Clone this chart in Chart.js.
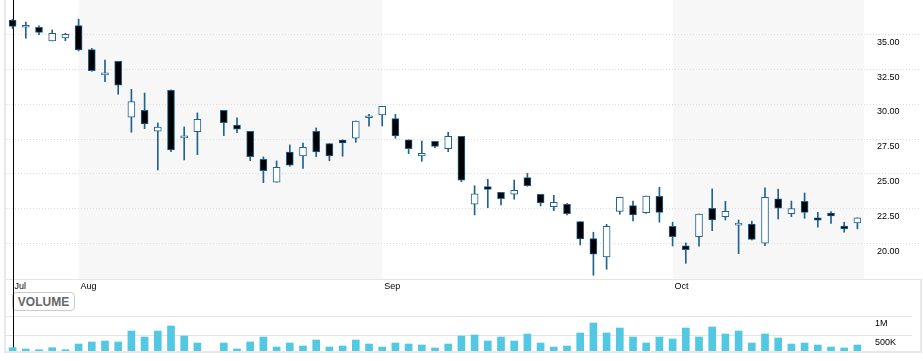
<!DOCTYPE html>
<html>
<head>
<meta charset="utf-8">
<script src="https://cdn.jsdelivr.net/npm/chart.js@4.4.1/dist/chart.umd.min.js"></script>
<style>
  html, body { margin: 0; padding: 0; background: #fff; }
  #wrap { position: relative; width: 923px; height: 361px; overflow: hidden; }
  #wrap canvas { position: absolute; left: 0; }
  #volBtn {
    position: absolute; left: 12px; top: 292px; width: 63px; height: 19px;
    border: 1px solid #cacaca; border-radius: 4px; box-sizing: border-box;
    font: bold 12px "Liberation Sans", Arial, sans-serif; color: #666;
    text-align: center; line-height: 18px; background: #fff;
  }
  .frame { position: absolute; background: #e8e8e8; }
</style>
</head>
<body>
<div id="wrap">
  <div class="frame" style="left:4px;top:0;width:2px;height:353px"></div>
  <div class="frame" style="left:920px;top:279px;width:2px;height:74px"></div>
  <div class="frame" style="left:4px;top:351px;width:918px;height:2px"></div>
  <div id="volBtn">VOLUME</div>
  <canvas id="price" width="923" height="295" style="top:0"></canvas>
  <canvas id="volume" width="923" height="66" style="top:295px"></canvas>
</div>
<script>
// trading days shown on the chart
const dates = [
  '2011-07-25', '2011-07-26', '2011-07-27', '2011-07-28', '2011-07-29',
  '2011-08-01', '2011-08-02', '2011-08-03', '2011-08-04', '2011-08-05',
  '2011-08-08', '2011-08-09', '2011-08-10', '2011-08-11', '2011-08-12',
  '2011-08-15', '2011-08-16', '2011-08-17', '2011-08-18', '2011-08-19',
  '2011-08-22', '2011-08-23', '2011-08-24', '2011-08-25', '2011-08-26',
  '2011-08-29', '2011-08-30', '2011-08-31',
  '2011-09-01', '2011-09-02', '2011-09-05', '2011-09-06', '2011-09-07',
  '2011-09-08', '2011-09-09', '2011-09-12', '2011-09-13', '2011-09-14',
  '2011-09-15', '2011-09-16', '2011-09-19', '2011-09-20', '2011-09-21',
  '2011-09-22', '2011-09-23', '2011-09-26', '2011-09-27', '2011-09-28',
  '2011-09-29', '2011-09-30',
  '2011-10-03', '2011-10-04', '2011-10-05', '2011-10-06', '2011-10-07',
  '2011-10-10', '2011-10-11', '2011-10-12', '2011-10-13', '2011-10-14',
  '2011-10-17', '2011-10-18', '2011-10-19', '2011-10-20', '2011-10-21'
];

const opens = [
  36.01, 35.50, 35.50, 34.52, 34.73, 35.62, 33.89, 32.08, 33.06, 29.04,
  29.54, 28.03, 30.98, 27.56, 28.00, null, 29.54, 28.48, 28.03, 26.02,
  24.37, 26.54, 26.26, 28.03, 27.14, 27.39, 27.53, 29.00, 29.20, 28.94,
  27.41, 26.26, 27.31, 26.78, 27.67, 22.79, 24.05, 23.65, 23.51, 24.70,
  23.51, 22.61, 22.79, 21.54, 20.32, 19.00, 22.28, 22.69, 22.18, 23.36,
  21.21, 19.81, 20.46, 22.50, 21.90, 21.29, 21.37, 19.99, 23.17, 22.11,
  23.00, 21.82, 22.16, 21.23, 21.44
];
const closes = [
  35.57, 35.52, 35.14, 35.07, 35.00, 33.87, 32.39, 32.18, 31.34, 30.16,
  28.56, 28.34, 26.69, 27.58, 28.89, null, 28.65, 28.18, 26.21, 25.20,
  25.45, 25.59, 26.88, 26.54, 26.26, 27.19, 28.77, 29.02, 29.83, 27.69,
  26.78, 26.45, 26.95, 27.67, 24.51, 23.53, 23.86, 23.19, 23.79, 24.12,
  22.88, 22.93, 22.11, 20.29, 19.20, 21.21, 23.29, 22.02, 23.38, 22.21,
  20.46, 19.53, 22.09, 21.66, 22.28, 21.31, 20.27, 23.29, 22.50, 22.47,
  22.21, 21.64, 21.95, 21.01, 21.82
];
const highs = [
  36.08, 35.88, 35.60, 35.31, 35.07, 36.08, 33.99, 33.15, 33.06, 31.04,
  30.78, 28.63, 31.00, 28.34, 29.35, null, 29.54, 28.99, 28.03, 26.19,
  25.90, 27.05, 27.19, 28.27, 27.14, 27.42, 28.77, 29.25, 29.83, 29.25,
  27.41, 27.33, 27.31, 27.96, 27.67, 24.12, 24.58, 23.65, 24.53, 25.01,
  23.51, 23.43, 22.86, 21.54, 20.78, 21.35, 23.29, 23.02, 23.38, 24.01,
  21.50, 20.01, 22.09, 23.89, 23.00, 21.66, 21.57, 23.96, 23.87, 23.02,
  23.60, 22.21, 22.26, 21.50, 21.82
];
const lows = [
  35.40, 34.71, 34.97, 34.52, 34.54, 33.80, 32.34, 31.59, 30.69, 27.96,
  28.22, 25.25, 26.57, 25.97, 26.35, null, 27.72, 27.93, 25.92, 24.34,
  24.37, 25.52, 25.37, 26.21, 25.92, 26.24, 27.24, 28.39, 28.41, 27.53,
  26.42, 25.87, 26.85, 26.57, 24.41, 22.02, 22.54, 22.74, 23.15, 24.08,
  22.67, 22.33, 22.02, 19.86, 17.69, 18.12, 22.07, 21.59, 22.14, 21.50,
  19.79, 18.55, 19.77, 20.89, 21.66, 19.24, 20.22, 19.81, 21.73, 21.90,
  21.78, 21.14, 21.42, 20.78, 21.03
];
const volumes = [
  166000, 132000, 113000, 166000, 113000, 263000, 316000, 342000, 316000, 605000,
  447000, 605000, 737000, 474000, 289000, null, 289000, 132000, 316000, 447000,
  184000, 289000, 211000, 368000, 184000, 211000, 368000, 263000, 184000, 289000,
  263000, 237000, 158000, 263000, 474000, 500000, 342000, 447000, 342000, 526000,
  289000, 184000, 211000, 553000, 816000, 553000, 684000, 447000, 289000, 447000,
  395000, 684000, 447000, 711000, 526000, 605000, 289000, 526000, 421000, 263000,
  289000, 237000, 184000, 158000, 237000
];

const monthNames = ['Jan', 'Feb', 'Mar', 'Apr', 'May', 'Jun', 'Jul', 'Aug', 'Sep', 'Oct', 'Nov', 'Dec'];
const priceTicks = [20, 22.5, 25, 27.5, 30, 32.5, 35];
const volumeTicks = [500000, 1000000];

const CANDLE_BLUE = '#1d6290';
const FONT = { family: '"Liberation Sans", Arial, sans-serif', size: 9 };

// index of the first trading day of every month on the chart
function monthStarts() {
  const out = [];
  dates.forEach((d, i) => {
    if (i === 0 || d.slice(5, 7) !== dates[i - 1].slice(5, 7)) out.push(i);
  });
  return out;
}

// fixed axis sizes, no extra room for overhanging labels
function fitBox(w, h) {
  return s => {
    if (w !== null) s.width = w;
    if (h !== null) s.height = h;
    s.paddingTop = 0;
    s.paddingBottom = 0;
    s.paddingLeft = 0;
    s.paddingRight = 0;
  };
}

const panelDecor = {
  id: 'panelDecor',
  beforeDatasetsDraw(chart, args, opts) {
    const { ctx, chartArea: a, scales } = chart;
    ctx.save();
    if (opts.shade) {
      const starts = monthStarts();
      ctx.fillStyle = '#f7f7f7';
      starts.forEach((s, k) => {
        if (k % 2 === 0) return;
        const x0 = scales.x.getPixelForValue(s);
        const x1 = k + 1 < starts.length ? scales.x.getPixelForValue(starts[k + 1]) : a.right;
        ctx.fillRect(x0, a.top, x1 - x0, a.bottom - a.top);
      });
    }
    ctx.lineWidth = 1;
    ctx.strokeStyle = opts.gridColor;
    ctx.setLineDash(opts.dash);
    scales.y.ticks.forEach(t => {
      const y = Math.round(scales.y.getPixelForValue(t.value)) + 0.5;
      ctx.beginPath();
      ctx.moveTo(a.left, y);
      ctx.lineTo(opts.gridRight, y);
      ctx.stroke();
    });
    ctx.setLineDash([]);
    if (opts.baseLine) {
      ctx.fillStyle = '#e6e6e6';
      ctx.fillRect(a.left, a.bottom, 922 - a.left, 1);
    }
    // cursor line on the first session
    const cx = Math.round(scales.x.getPixelForValue(0)) + 0.5;
    ctx.strokeStyle = '#000';
    ctx.beginPath();
    ctx.moveTo(cx, 0);
    ctx.lineTo(cx, opts.cursorToBottom ? chart.height : a.bottom);
    ctx.stroke();
    ctx.restore();
  }
};

const bodyColors = opens.map((o, i) => (closes[i] >= o ? '#ffffff' : '#000000'));

new Chart(document.getElementById('price'), {
  type: 'bar',
  data: {
    labels: dates,
    datasets: [
      {
        label: 'Range',
        data: lows.map((l, i) => (l === null ? null : [l, highs[i]])),
        backgroundColor: CANDLE_BLUE,
        barThickness: 1,
        grouped: false,
        order: 2,
      },
      {
        label: 'Open/Close',
        data: opens.map((o, i) => (o === null ? null : [o, closes[i]])),
        backgroundColor: bodyColors,
        borderColor: CANDLE_BLUE,
        borderWidth: 1,
        borderSkipped: false,
        barThickness: 7,
        minBarLength: 2,
        grouped: false,
        order: 1,
      },
    ],
  },
  options: {
    responsive: false,
    animation: false,
    events: [],
    layout: { padding: { left: 6, top: 0, right: 0, bottom: 0 } },
    plugins: {
      legend: { display: false },
      tooltip: { enabled: false },
      panelDecor: { shade: true, gridColor: '#dcdcdc', dash: [1, 2], gridRight: 921, baseLine: true, cursorToBottom: true },
    },
    scales: {
      x: {
        type: 'category',
        offset: true,
        grid: { display: false, drawTicks: false },
        border: { display: false },
        afterFit: fitBox(null, 16),
        ticks: {
          autoSkip: false,
          maxRotation: 0,
          align: 'start',
          labelOffset: 2,
          padding: 2,
          color: '#000',
          font: FONT,
          callback: (v, i) => (monthStarts().includes(i) ? monthNames[+dates[i].slice(5, 7) - 1] : ''),
        },
      },
      y: {
        position: 'right',
        min: 17.42,
        max: 37.46,
        grid: { display: false, drawTicks: false },
        border: { display: false },
        afterFit: fitBox(59, null),
        afterBuildTicks: s => { s.ticks = priceTicks.map(v => ({ value: v })); },
        ticks: {
          padding: 13,
          labelOffset: 8,
          color: '#000',
          font: FONT,
          callback: v => v.toFixed(2),
        },
      },
    },
  },
  plugins: [panelDecor],
});

new Chart(document.getElementById('volume'), {
  type: 'bar',
  data: {
    labels: dates,
    datasets: [
      {
        label: 'Volume',
        data: volumes,
        backgroundColor: '#52c8e2',
        barThickness: 7,
      },
    ],
  },
  options: {
    responsive: false,
    animation: false,
    events: [],
    layout: { padding: { left: 6, top: 21, right: 0, bottom: 10 } },
    plugins: {
      legend: { display: false },
      tooltip: { enabled: false },
      panelDecor: { shade: false, gridColor: '#e4e4e4', dash: [], gridRight: 912, baseLine: false, cursorToBottom: false },
    },
    scales: {
      x: {
        type: 'category',
        offset: true,
        display: false,
      },
      y: {
        position: 'right',
        min: 79000,
        max: 1000000,
        grid: { display: false, drawTicks: false },
        border: { display: false },
        afterFit: fitBox(59, null),
        afterBuildTicks: s => { s.ticks = volumeTicks.map(v => ({ value: v })); },
        ticks: {
          padding: 11,
          labelOffset: 8,
          color: '#000',
          font: FONT,
          callback: v => (v >= 1000000 ? v / 1000000 + 'M' : v / 1000 + 'K'),
        },
      },
    },
  },
  plugins: [panelDecor],
});
</script>
</body>
</html>
